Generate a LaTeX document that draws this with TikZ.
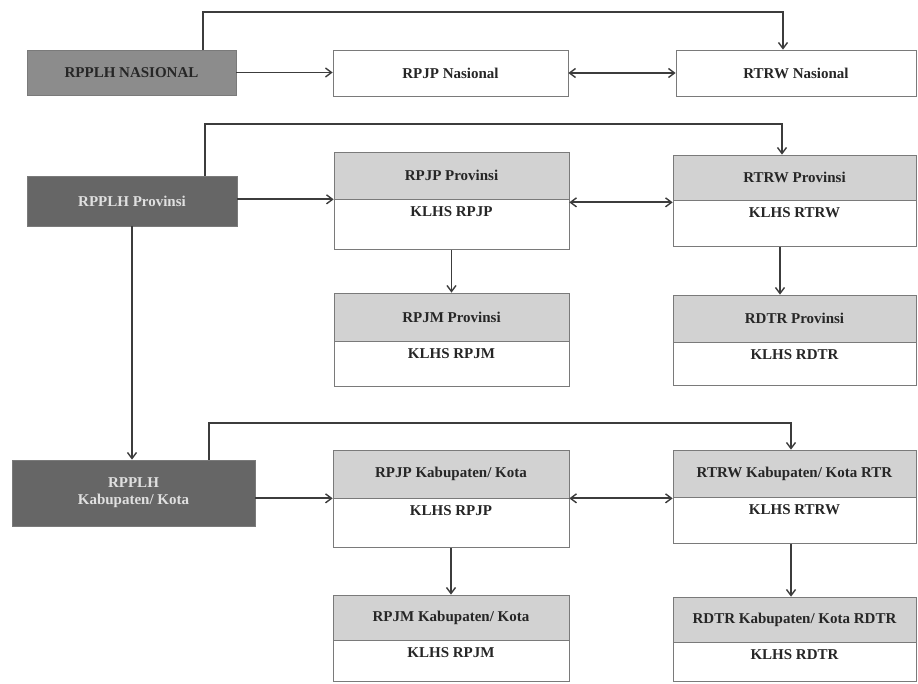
\documentclass[tikz,border=0pt]{standalone}
\usepackage{fontspec}
\setmainfont{Liberation Serif}
\usetikzlibrary{arrows.meta}
\definecolor{conncol}{HTML}{3C3C3C}
\definecolor{hdrcol}{HTML}{D2D2D2}
\definecolor{boxline}{HTML}{7A7A7A}
\newcommand{\boxfont}{\bfseries\fontsize{15}{17}\selectfont}
\tikzset{
  base/.style={draw=boxline, line width=0.7pt, inner sep=2pt, font=\boxfont, align=center},
  rppl/.style={base, fill=#1},
  plainbox/.style={base, fill=white, text=black!85},
  hdr/.style={base, fill=hdrcol, text=black!85},
  klhs/.style={base, fill=white},
  klab/.style={anchor=north, yshift=-4pt, font=\boxfont, text=black!85},
  conn/.style={draw=conncol, line width=1.8pt, -{Straight Barb[length=6pt,width=9pt,line width=1.4pt]}},
  dconn/.style={draw=conncol, line width=1.8pt, {Straight Barb[length=6pt,width=9pt,line width=1.4pt]}-{Straight Barb[length=6pt,width=9pt,line width=1.4pt]}}
}
\begin{document}
\begin{tikzpicture}[x=1pt,y=-1pt]
\useasboundingbox[fill=white] (0,0) rectangle (918,684);

% ---------- Row 1: Nasional ----------
\node[rppl=black!45, text=black!85, minimum width=209pt, minimum height=45pt] (nas) at (131.5,72.5) {RPPLH NASIONAL};
\node[plainbox, minimum width=235pt, minimum height=46pt] (rpjpN) at (450.5,73) {RPJP Nasional};
\node[plainbox, minimum width=240pt, minimum height=46pt] (rtrwN) at (796,73) {RTRW Nasional};

% ---------- Row 2: Provinsi ----------
\node[rppl=black!60, text=black!12, minimum width=210pt, minimum height=50pt] (prov) at (132,201) {RPPLH Provinsi};

\node[hdr, minimum width=235pt, minimum height=47pt] (rpjpPh) at (451.5,175.5) {RPJP Provinsi};
\node[klhs, minimum width=235pt, minimum height=50pt, anchor=north,
      label={[klab]north:KLHS RPJP}] (rpjpPl) at (rpjpPh.south) {};

\node[hdr, minimum width=243pt, minimum height=45pt] (rtrwPh) at (794.5,177.5) {RTRW Provinsi};
\node[klhs, minimum width=243pt, minimum height=46pt, anchor=north,
      label={[klab]north:KLHS RTRW}] (rtrwPl) at (rtrwPh.south) {};

\node[hdr, minimum width=235pt, minimum height=48pt] (rpjmPh) at (451.5,317) {RPJM Provinsi};
\node[klhs, minimum width=235pt, minimum height=45pt, anchor=north,
      label={[klab]north:KLHS RPJM}] (rpjmPl) at (rpjmPh.south) {};

\node[hdr, minimum width=243pt, minimum height=47pt] (rdtrPh) at (794.5,318.5) {RDTR Provinsi};
\node[klhs, minimum width=243pt, minimum height=43pt, anchor=north,
      label={[klab]north:KLHS RDTR}] (rdtrPl) at (rdtrPh.south) {};

% ---------- Row 3: Kabupaten/Kota ----------
\node[rppl=black!60, text=black!12, minimum width=243pt, minimum height=66pt] (kab) at (133.5,493) {RPPLH\\Kabupaten/ Kota};

\node[hdr, minimum width=236pt, minimum height=48pt] (rpjpKh) at (451,474) {RPJP Kabupaten/ Kota};
\node[klhs, minimum width=236pt, minimum height=49pt, anchor=north,
      label={[klab]north:KLHS RPJP}] (rpjpKl) at (rpjpKh.south) {};

\node[hdr, minimum width=243pt, minimum height=47pt] (rtrwKh) at (794.5,473.5) {RTRW Kabupaten/ Kota RTR};
\node[klhs, minimum width=243pt, minimum height=46pt, anchor=north,
      label={[klab]north:KLHS RTRW}] (rtrwKl) at (rtrwKh.south) {};

\node[hdr, minimum width=236pt, minimum height=45pt] (rpjmKh) at (451,617.5) {RPJM Kabupaten/ Kota};
\node[klhs, minimum width=236pt, minimum height=41pt, anchor=north,
      label={[klab]north:KLHS RPJM}] (rpjmKl) at (rpjmKh.south) {};

\node[hdr, minimum width=243pt, minimum height=45pt] (rdtrKh) at (794.5,619.5) {RDTR Kabupaten/ Kota RDTR};
\node[klhs, minimum width=243pt, minimum height=39pt, anchor=north,
      label={[klab]north:KLHS RDTR}] (rdtrKl) at (rdtrKh.south) {};

% ---------- connector coordinates ----------
\coordinate (n1) at (203,12);
\coordinate (n2) at (783,12);
\coordinate (p1) at (205,124);
\coordinate (p2) at (782,124);
\coordinate (k1) at (209,423);
\coordinate (k2) at (791,423);
\coordinate (pv) at (780,0);
\coordinate (kv) at (791,0);

% ---------- connectors ----------
\draw[conn] (nas.north -| n1) -- (n1) -- (n2) -- (rtrwN.north -| n2);
\draw[conn] (nas.east) -- (nas.east -| rpjpN.west);
\draw[dconn] (rpjpN.east) -- (rpjpN.east -| rtrwN.west);

\draw[conn] (prov.north -| p1) -- (p1) -- (p2) -- (rtrwPh.north -| p2);
\draw[conn] (prov.east |- rpjpPl.north) -- (rpjpPl.north west);
\draw[dconn] ([yshift=-3pt]rpjpPh.south east) -- ([yshift=-3pt]rpjpPh.south east -| rtrwPh.west);
\draw[conn] (rpjpPl.south) -- (rpjmPh.north);
\draw[conn] (rtrwPl.south -| pv) -- (rdtrPh.north -| pv);
\draw[conn] (prov.south) -- (prov.south |- kab.north);

\draw[conn] (kab.north -| k1) -- (k1) -- (k2) -- (rtrwKh.north -| k2);
\draw[conn] (kab.east |- rpjpKl.north) -- (rpjpKl.north west);
\draw[dconn] (rpjpKh.south east) -- (rpjpKh.south east -| rtrwKh.west);
\draw[conn] (rpjpKl.south) -- (rpjmKh.north);
\draw[conn] (rtrwKl.south -| kv) -- (rdtrKh.north -| kv);
\end{tikzpicture}
\end{document}
